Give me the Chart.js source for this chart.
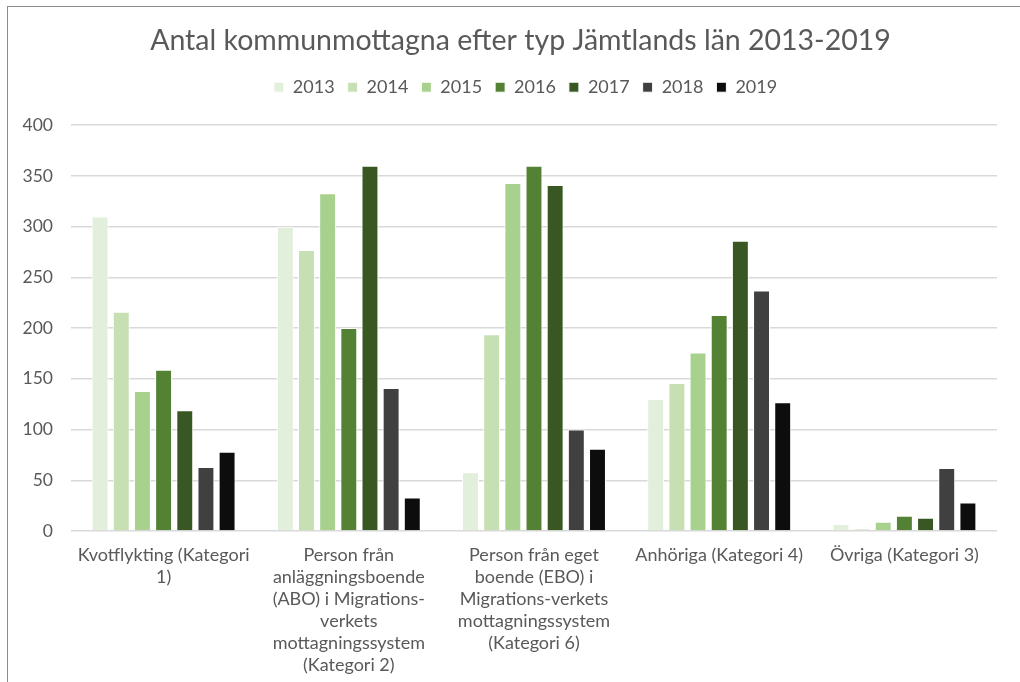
<!DOCTYPE html>
<html lang="sv">
<head>
    <meta charset="UTF-8">
    <script src="https://cdn.jsdelivr.net/npm/chart.js"></script>
    <title>Antal kommunmottagna efter typ Jämtlands län 2013-2019</title>
    <style>
        body { margin: 0; background: #fff; }
        #wrap { position: relative; width: 1020px; height: 682px; overflow: hidden; }
        #frame { position: absolute; left: 7px; top: 6px; width: 1100px; height: 800px;
                 border-top: 1.5px solid #8c8c8c; border-left: 1.5px solid #8c8c8c; pointer-events: none; }
    </style>
</head>
<body>
    <div id="wrap">
        <canvas id="chart" width="1020" height="682"></canvas>
        <div id="frame"></div>
    </div>
    <script>
        // kategorier (radbrutna som i originalet)
        var kategorier = [
            ["Kvotflykting (Kategori", "1)"],
            ["Person från", "anläggningsboende", "(ABO) i Migrations-", "verkets", "mottagningssystem", "(Kategori 2)"],
            ["Person från eget", "boende (EBO) i", "Migrations-verkets", "mottagningssystem", "(Kategori 6)"],
            ["Anhöriga (Kategori 4)"],
            ["Övriga (Kategori 3)"]
        ];
        var ar = ["2013", "2014", "2015", "2016", "2017", "2018", "2019"];
        var farger = ["#E2EFDA", "#C6E0B4", "#A9D18E", "#548235", "#385723", "#404040", "#0D0D0D"];

        // värden per år, en per kategori
        var v2013 = [310, 300, 58, 130, 7];
        var v2014 = [216, 277, 194, 146, 2];
        var v2015 = [138, 333, 343, 176, 9];
        var v2016 = [159, 200, 360, 213, 15];
        var v2017 = [119, 360, 341, 286, 13];
        var v2018 = [63, 141, 100, 237, 62];
        var v2019 = [78, 33, 81, 127, 28];
        var varden = [v2013, v2014, v2015, v2016, v2017, v2018, v2019];

        var yTicks = [0, 50, 100, 150, 200, 250, 300, 350, 400];

        var datasets = ar.map(function (a, i) {
            return {
                label: a,
                data: varden[i],
                backgroundColor: farger[i],
                borderColor: "#ffffff",
                borderWidth: 1,
                categoryPercentage: 0.8,
                barPercentage: 0.8
            };
        });

        // extra luft under legenden
        var legendMargin = {
            id: "legendMargin",
            beforeInit: function (chart) {
                var fit = chart.legend.fit;
                chart.legend.fit = function () {
                    fit.bind(chart.legend)();
                    this.height += 19;
                };
            },
            // titel och legend sitter lite till höger i originalet
            afterLayout: function (chart) {
                chart.titleBlock.left += 17;
                chart.titleBlock.right += 17;
                chart.legend.left += 22;
                chart.legend.right += 22;
            }
        };

        Chart.defaults.font.family = "Lato, 'Open Sans', sans-serif";
        Chart.defaults.color = "#595959";

        var ctx = document.getElementById("chart").getContext("2d");
        new Chart(ctx, {
            type: "bar",
            data: { labels: kategorier, datasets: datasets },
            plugins: [legendMargin],
            options: {
                responsive: false,
                animation: false,
                layout: { padding: { left: 10, right: 23, top: 0, bottom: 0 } },
                plugins: {
                    title: {
                        display: true,
                        text: "Antal kommunmottagna efter typ Jämtlands län 2013-2019",
                        color: "#595959",
                        font: { size: 28.5, weight: "normal" },
                        padding: { top: 24, bottom: 7 }
                    },
                    legend: {
                        labels: {
                            boxWidth: 10,
                            boxHeight: 10,
                            color: "#595959",
                            font: { size: 18 },
                            padding: 13
                        }
                    },
                    tooltip: { enabled: false }
                },
                scales: {
                    x: {
                        grid: { display: false },
                        border: { display: false },
                        ticks: {
                            maxRotation: 0,
                            autoSkip: false,
                            color: "#595959",
                            font: { size: 18, lineHeight: 1.22 },
                            padding: 5
                        },
                        afterFit: function (scale) { scale.height = 151; }
                    },
                    y: {
                        min: 0,
                        max: 400,
                        afterBuildTicks: function (scale) {
                            scale.ticks = yTicks.map(function (v) { return { value: v }; });
                        },
                        grid: { color: "#d9d9d9", lineWidth: 1.5, drawTicks: false },
                        border: { display: false },
                        ticks: { color: "#595959", font: { size: 17.5 }, padding: 18 },
                        afterFit: function (scale) { scale.width = 61; }
                    }
                }
            }
        });
    </script>
</body>
</html>
